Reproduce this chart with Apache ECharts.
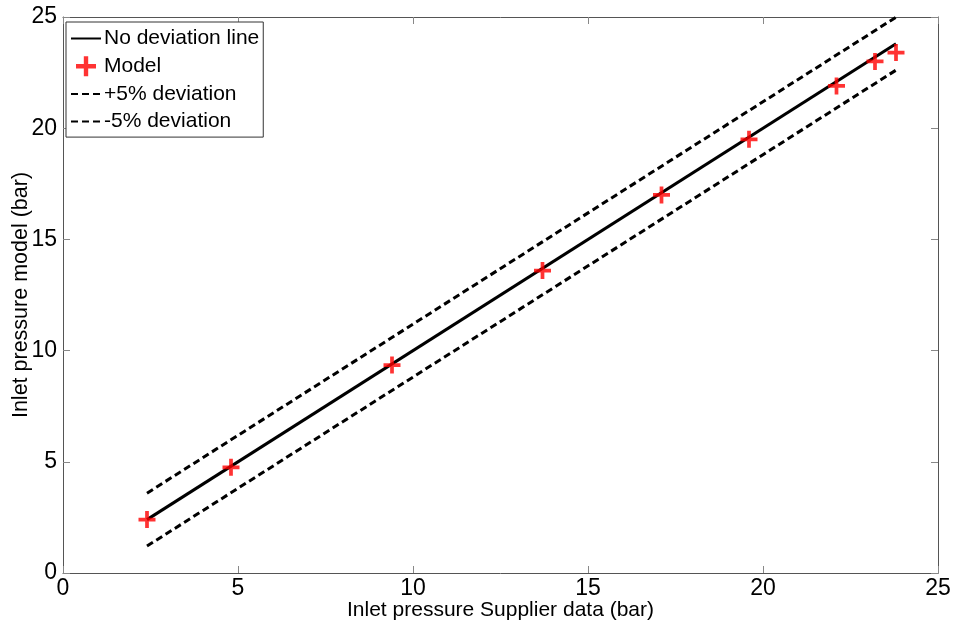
<!DOCTYPE html>
<html>
<head>
<meta charset="utf-8">
<script src="https://cdn.jsdelivr.net/npm/echarts@6/dist/echarts.min.js"></script>
<style>
  html, body { margin: 0; padding: 0; background: #fff; }
  #chart { width: 958px; height: 627px; }
</style>
</head>
<body>
<div id="chart"></div>
<script>
// supplier data (x) vs model (y), bar
const supplierData = [2.4, 4.8, 9.4, 13.7, 17.1, 19.6, 22.1, 23.2, 23.8];
const modelData = [2.4, 4.75, 9.35, 13.6, 17.0, 19.5, 21.9, 23.0, 23.4];
// reference line ends and deviation band
const lineX = [2.4, 23.8];
const deviation = 1.19;
const axisTicks = [0, 5, 10, 15, 20, 25];

const font = "Liberation Sans, Arial, sans-serif";
const plus = "path://M6.25,0h3.5v6.25h6.25v3.5h-6.25v6.25h-3.5v-6.25h-6.25v-3.5h6.25z";

const chart = echarts.init(document.getElementById("chart"));

const makeAxis = (extra) => Object.assign({
  type: "value",
  min: axisTicks[0],
  max: axisTicks[axisTicks.length - 1],
  interval: 5,
  axisLine: { show: true, onZero: false, lineStyle: { color: "#555", width: 1 } },
  axisTick: { show: true, inside: true, length: 7, lineStyle: { color: "#888" } },
  splitLine: { show: false },
  axisLabel: { show: false }
}, extra);

// hide the circle that line series put in their legend icon
const lineItem = (name) => ({ name: name, itemStyle: { opacity: 0 } });

chart.setOption({
  animation: false,
  grid: { left: 63, right: 20, top: 17, bottom: 54, outerBoundsMode: "none", containLabel: false },
  legend: {
    orient: "vertical",
    left: 66,
    top: 22,
    padding: [6, 4, 5, 4],
    itemGap: 6.7,
    itemWidth: 30,
    itemHeight: 20,
    backgroundColor: "#fff",
    borderColor: "#333",
    borderWidth: 1,
    borderRadius: 0,
    textStyle: { fontFamily: font, fontSize: 21, color: "#000", padding: [0, 0, 0, -2] },
    data: [lineItem("No deviation line"), "Model", lineItem("+5% deviation"), lineItem("-5% deviation")]
  },
  xAxis: [
    makeAxis({
      position: "bottom",
      name: "Inlet pressure Supplier data (bar)",
      nameLocation: "middle",
      nameGap: 27,
      nameMoveOverlap: false,
      nameTextStyle: { fontFamily: font, fontSize: 21, color: "#000" },
      axisLabel: { show: true, fontFamily: font, fontSize: 23, color: "#000", margin: 4 }
    }),
    makeAxis({ position: "top" })
  ],
  yAxis: [
    makeAxis({
      position: "left",
      name: "Inlet pressure model (bar)",
      nameLocation: "middle",
      nameGap: 31,
      nameMoveOverlap: false,
      nameTextStyle: { fontFamily: font, fontSize: 21.5, color: "#000" },
      axisLabel: { show: true, fontFamily: font, fontSize: 23, color: "#000", margin: 6 }
    }),
    makeAxis({ position: "right" })
  ],
  series: [
    {
      name: "No deviation line",
      type: "line",
      symbol: "none",
      color: "#000",
      lineStyle: { color: "#000", width: 3 },
      data: lineX.map((x) => [x, x])
    },
    {
      name: "Model",
      type: "scatter",
      symbol: plus,
      symbolSize: 17,
      itemStyle: { color: "#ff0000" },
      z: 5,
      data: supplierData.map((x, i) => [x, modelData[i]])
    },
    {
      name: "+5% deviation",
      type: "line",
      symbol: "none",
      color: "#000",
      lineStyle: { color: "#000", width: 3, type: [7, 4] },
      data: lineX.map((x) => [x, x + deviation])
    },
    {
      name: "-5% deviation",
      type: "line",
      symbol: "none",
      color: "#000",
      lineStyle: { color: "#000", width: 3, type: [7, 4] },
      data: lineX.map((x) => [x, x - deviation])
    }
  ]
});
</script>
</body>
</html>
